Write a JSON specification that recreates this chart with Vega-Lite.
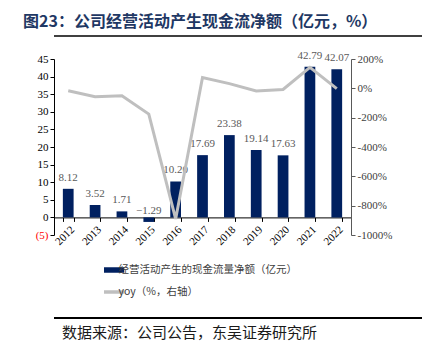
{
  "$schema": "https://vega.github.io/schema/vega-lite/v6.json",
  "background": "white",
  "padding": {"left": 14, "right": 7, "top": 14, "bottom": 5},
  "title": {"text": "图23：公司经营活动产生现金流净额（亿元，%）", "anchor": "start", "dx": 9, "font": "Noto Sans CJK SC", "fontSize": 16, "fontWeight": "bold", "color": "#1F3864", "offset": 5},
  "config": {"view": {"stroke": null}, "axis": {"labelFont": "Liberation Serif", "grid": false, "labelFontSize": 11}},
  "align": "none",
  "bounds": "full",
  "spacing": 12,
  "resolve": {"scale": {"color": "independent"}},
  "vconcat": [
    {
      "width": 401,
      "height": 1,
      "data": {"values": [{"part": "header"}]},
      "mark": {"type": "rule", "stroke": "black", "strokeWidth": 1.5},
      "encoding": {"y": {"datum": 0, "type": "quantitative", "scale": {"domain": [0, 1]}, "axis": null}}
    },
    {
      "width": 297,
      "height": 176,
      "data": {"values": [
        {"year": "2012", "cash": 8.12, "yoy": -17},
        {"year": "2013", "cash": 3.52, "yoy": -56.7},
        {"year": "2014", "cash": 1.71, "yoy": -51.4},
        {"year": "2015", "cash": -1.29, "yoy": -175.4},
        {"year": "2016", "cash": 10.20, "yoy": -890.7},
        {"year": "2017", "cash": 17.69, "yoy": 73.4},
        {"year": "2018", "cash": 23.38, "yoy": 32.2},
        {"year": "2019", "cash": 19.14, "yoy": -18.1},
        {"year": "2020", "cash": 17.63, "yoy": -7.9},
        {"year": "2021", "cash": 42.79, "yoy": 142.7},
        {"year": "2022", "cash": 42.07, "yoy": -1.7}
      ]},
      "encoding": {
        "x": {"field": "year", "type": "ordinal", "scale": {"paddingInner": 0.6, "paddingOuter": 0.33},
          "axis": {"title": null, "orient": "bottom", "offset": -17.6, "labelAngle": -45, "tickBand": "extent", "domainColor": "black", "tickColor": "black", "tickSize": 4, "labelColor": "black", "labelPadding": 2}}
      },
      "layer": [
        {
          "mark": {"type": "bar", "color": "#002060"},
          "encoding": {
            "y": {"field": "cash", "type": "quantitative", "scale": {"domain": [-5, 45]},
              "axis": {"title": null, "values": [-5, 0, 5, 10, 15, 20, 25, 30, 35, 40, 45], "labelExpr": "datum.value < 0 ? '(' + abs(datum.value) + ')' : datum.label", "labelColor": {"condition": {"test": "datum.value < 0", "value": "#FF0000"}, "value": "black"}, "domainColor": "black", "tickColor": "black", "tickSize": 4, "minExtent": 40}},
            "color": {"datum": "经营活动产生的现金流量净额（亿元）", "type": "nominal",
              "scale": {"domain": ["经营活动产生的现金流量净额（亿元）", "yoy（%，右轴）"], "range": ["#002060", "#BFBFBF"]},
              "legend": {"title": null, "orient": "none", "legendX": 50, "legendY": 203, "direction": "vertical", "symbolType": "stroke", "symbolSize": 900, "symbolStrokeWidth": 5, "clipHeight": 16, "rowPadding": 6, "labelFont": "Noto Sans CJK SC", "labelFontSize": 10.5, "labelColor": "#404040", "labelOffset": 4, "labelLimit": 400,
                "encode": {"symbols": {"update": {"stroke": {"scale": "color", "field": "value"}, "strokeWidth": {"signal": "datum.value === 'yoy（%，右轴）' ? 3.5 : 5.5"}}}}}
            }
          }
        },
        {
          "mark": {"type": "text", "font": "Liberation Serif", "fontSize": 11, "color": "#595959", "baseline": "alphabetic", "dy": -8},
          "encoding": {
            "y": {"field": "cash", "type": "quantitative", "scale": {"domain": [-5, 45]}, "axis": null},
            "text": {"field": "cash", "type": "quantitative", "format": ".2f"}
          }
        },
        {
          "mark": {"type": "line", "strokeWidth": 3, "color": "#BFBFBF"},
          "encoding": {
            "y": {"field": "yoy", "type": "quantitative", "scale": {"domain": [-1000, 200]},
              "axis": {"title": null, "orient": "right", "values": [-1000, -800, -600, -400, -200, 0, 200], "labelExpr": "datum.value + '%'", "labelColor": "#404040", "domainColor": "#595959", "tickColor": "#595959", "tickSize": 4}},
            "color": {"datum": "yoy（%，右轴）", "type": "nominal"}
          }
        }
      ],
      "resolve": {"scale": {"y": "independent"}}
    },
    {
      "width": 401,
      "height": 6,
      "data": {"values": [{"part": "footer"}]},
      "title": {"text": "数据来源：公司公告，东吴证券研究所", "orient": "bottom", "anchor": "start", "dx": 9, "font": "Noto Sans CJK SC", "fontSize": 15, "fontWeight": "normal", "color": "#1a1a1a", "offset": 7},
      "mark": {"type": "rule", "stroke": "black", "strokeWidth": 2},
      "encoding": {"y": {"datum": 0, "type": "quantitative", "scale": {"domain": [0, 1]}, "axis": null}}
    }
  ]
}
